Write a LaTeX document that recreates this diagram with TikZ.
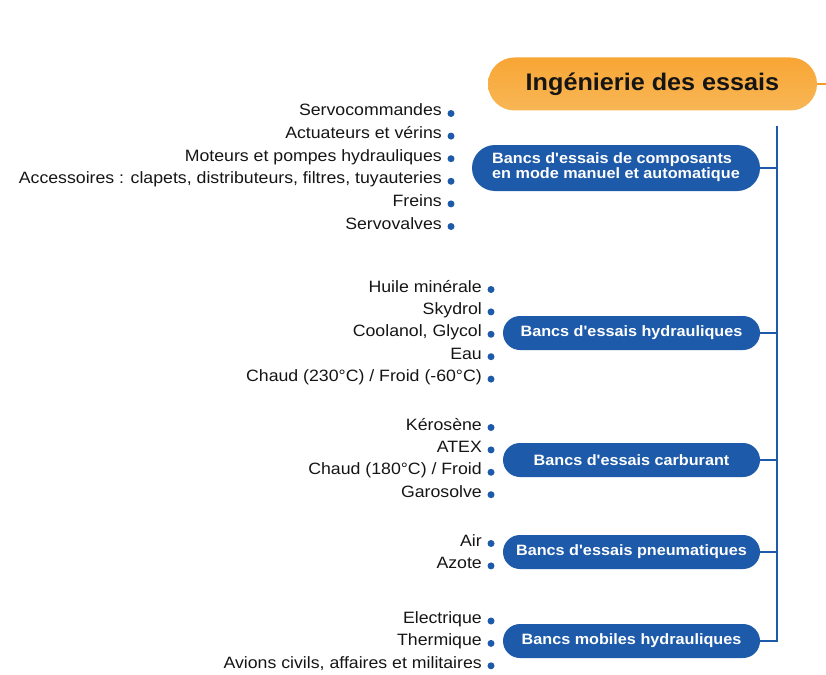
\documentclass[tikz,border=0pt]{standalone}
\usepackage{fontspec}
\usepackage{graphicx}
\setmainfont{Liberation Sans}[Ligatures=TeXOff]
\usetikzlibrary{shapes.misc}
\definecolor{bblue}{HTML}{1D5AA9}
\definecolor{ortop}{HTML}{F8A634}
\definecolor{ormid}{HTML}{F49C26}
\definecolor{orbot}{HTML}{F8B656}
\definecolor{txt}{HTML}{151515}
\newcommand\hs[2][1.08]{\scalebox{#1}[1]{#2}}
\tikzset{
  item/.style={inner sep=0pt, text=txt, font=\fontsize{16.4}{18}\selectfont, anchor=base east},
  bdot/.style={circle, fill=bblue, inner sep=0pt, minimum size=7pt},
  bbox/.style={rounded rectangle, fill=bblue, text=white, inner sep=0pt,
    minimum height=34pt, minimum width=257pt, font=\fontsize{15}{15.5}\selectfont\bfseries},
  titlebox/.style={rounded rectangle, top color=ortop, middle color=ormid, bottom color=orbot,
    text=txt, inner sep=0pt, minimum height=53pt, minimum width=329pt,
    font=\fontsize{24}{28}\selectfont\bfseries},
  bline/.style={draw=bblue, line width=1.6pt},
  oline/.style={draw=ormid, line width=1.6pt}
}
\begin{document}
\begin{tikzpicture}[x=1pt,y=-1pt]
\useasboundingbox (0,0) rectangle (826,674);
% title
\node[titlebox] (title) at (652.5,84) {\hs[1.05]{Ingénierie des essais}};
\coordinate (oend) at (826,84);
\draw[oline] (title.east) -- (oend);
% main boxes
\node[bbox, minimum width=288pt, minimum height=46pt] (b1) at (616,168)
  {\hs{\begin{tabular}{@{}l@{}}Bancs d'essais de composants\\en mode manuel et automatique\end{tabular}}};
\node[bbox] (b2) at (631.5,333) {\hs{Bancs d'essais hydrauliques}};
\node[bbox] (b3) at (631.5,460) {\hs{Bancs d'essais carburant}};
\node[bbox] (b4) at (631.5,552) {\hs{Bancs d'essais pneumatiques}};
\node[bbox] (b5) at (631.5,641) {\hs{Bancs mobiles hydrauliques}};
% trunk
\coordinate (vtop) at (777,126);
\draw[bline] (vtop) -- (vtop |- b5.east) -- (b5.east);
\foreach \b in {b1,b2,b3,b4} \draw[bline] (\b.east) -- (\b.east -| vtop);
% group 1
\foreach \t [count=\k from 0] in {Servocommandes,Actuateurs et vérins,Moteurs et pompes hydrauliques,{Accessoires : clapets, distributeurs, filtres, tuyauteries},Freins,Servovalves}{
  \node[item] (ga\k) at (442,116+22.6*\k) {\hs{\t}};
  \node[bdot] (da\k) at (451,113.5+22.6*\k) {};
}
% group 2
\foreach \t [count=\k from 0] in {Huile minérale,Skydrol,{Coolanol, Glycol},Eau,Chaud (230°C) / Froid (-60°C)}{
  \node[item] (gb\k) at (482,292+22.4*\k) {\hs{\t}};
  \node[bdot] (db\k) at (491,289.5+22.4*\k) {};
}
% group 3
\foreach \t [count=\k from 0] in {Kérosène,ATEX,Chaud (180°C) / Froid,Garosolve}{
  \node[item] (gc\k) at (482,430+22.4*\k) {\hs{\t}};
  \node[bdot] (dc\k) at (491,427.5+22.4*\k) {};
}
% group 4
\foreach \t [count=\k from 0] in {Air,Azote}{
  \node[item] (gd\k) at (482,546+22.4*\k) {\hs{\t}};
  \node[bdot] (dd\k) at (491,543.5+22.4*\k) {};
}
% group 5
\foreach \t [count=\k from 0] in {Electrique,Thermique,{Avions civils, affaires et militaires}}{
  \node[item] (ge\k) at (482,623.5+22.4*\k) {\hs{\t}};
  \node[bdot] (de\k) at (491,621+22.4*\k) {};
}
\end{tikzpicture}
\end{document}
